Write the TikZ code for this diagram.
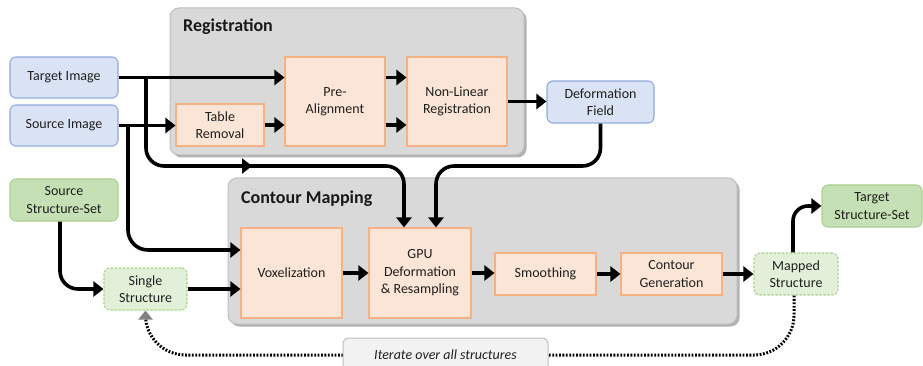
\documentclass[tikz,border=0pt]{standalone}
\usepackage{fontspec}
\setmainfont{Carlito}
\usetikzlibrary{arrows.meta,shadows}
\definecolor{bluefill}{HTML}{DAE3F3}
\definecolor{blueline}{HTML}{8FAADC}
\definecolor{orfill}{HTML}{FBE5D6}
\definecolor{orline}{HTML}{F4B183}
\definecolor{gfill}{HTML}{C5E0B4}
\definecolor{gline}{HTML}{A9D18E}
\definecolor{glfill}{HTML}{E2F0D9}
\definecolor{contfill}{HTML}{D9D9D9}
\definecolor{contline}{HTML}{BFBFBF}
\definecolor{iterfill}{HTML}{F2F2F2}
\begin{document}
\begin{tikzpicture}[x=1pt,y=-1pt,
  font=\fontsize{14}{17.5}\selectfont,
  dims/.style 2 args={minimum width=#1pt, minimum height=#2pt},
  box/.style={align=center, inner sep=0pt, line width=1.1pt, text=black!88},
  bluebox/.style={box, draw=blueline, fill=bluefill, rounded corners=6pt},
  orbox/.style={box, draw=orline, fill=orfill},
  greenbox/.style={box, draw=gline, fill=gfill, rounded corners=6pt},
  dgreenbox/.style={box, draw=gline, fill=glfill, rounded corners=6pt, dash pattern=on 2.5pt off 1.5pt},
  container/.style={draw=contline, fill=contfill, rounded corners=9pt, line width=1pt,
     drop shadow={shadow xshift=2.5pt, shadow yshift=-2.5pt, fill=black, opacity=0.3}},
  title/.style={font=\fontsize{18}{21}\selectfont\bfseries, anchor=west, inner sep=0pt, text=black!90},
  iterbox/.style={draw=contline, fill=iterfill, rounded corners=6pt, line width=1pt,
     font=\fontsize{14}{17.5}\selectfont\itshape, inner sep=0pt, text=black!88},
  arr/.style={line width=3.6pt, -{Triangle[length=10pt,width=15pt]}},
  dotline/.style={line width=3pt, dash pattern=on 1.8pt off 1.6pt,
     -{Triangle[length=9pt,width=14pt,color=gray]}}
]
\useasboundingbox (0,0) rectangle (923,366);
\clip (0,0) rectangle (923,366);

% containers
\node[container, dims={354}{147}] (reg) at (347,81.5) {};
\node[title] (regt) at (183,27) {Registration};
\node[container, dims={509}{146}] (cm) at (482.5,251) {};
\node[title] (cmt) at (241,199) {Contour Mapping};

% nodes
\node[bluebox, dims={108}{41}] (ti) at (64,77.5) {Target Image};
\node[bluebox, dims={108}{41}] (si) at (64,125.5) {Source Image};
\node[orbox, dims={88}{42}] (tr) at (220,125) {Table\\Removal};
\node[orbox, dims={100}{89}] (pre) at (335,101.5) {Pre-\\Alignment};
\node[orbox, dims={100}{89}] (nl) at (457,101.5) {Non-Linear\\Registration};
\node[bluebox, dims={107}{42}] (df) at (600.5,102) {Deformation\\Field};
\node[greenbox, dims={108}{42}] (sss) at (64,200) {Source\\Structure-Set};
\node[dgreenbox, dims={83}{42}] (single) at (145.5,289) {Single\\Structure};
\node[orbox, dims={101}{90}] (vox) at (291.5,273) {Voxelization};
\node[orbox, dims={102}{90}] (gpu) at (420,273) {GPU\\Deformation\\\& Resampling};
\node[orbox, dims={101}{42}] (sm) at (545.5,274) {Smoothing};
\node[orbox, dims={101}{42}] (cg) at (671.5,274) {Contour\\Generation};
\node[dgreenbox, dims={84}{42}] (ms) at (796,274) {Mapped\\Structure};
\node[greenbox, dims={100}{42}] (tss) at (872,206) {Target\\Structure-Set};

% helper coordinates
\coordinate (tb) at (146,77.5);
\coordinate (sb) at (128,125.5);
\coordinate (h1) at (0,166);
\coordinate (h2) at (0,250);
\coordinate (h3) at (0,355);
\coordinate (g1) at ([xshift=-16pt]gpu.north);
\coordinate (g2) at ([xshift=16pt]gpu.north);
\coordinate (ma1) at (238,166);
\coordinate (ma2) at (252,166);

% registration arrows
\draw[arr] (ti.east) -- (ti.east -| pre.west);
\draw[arr] (si.east) -- (si.east -| tr.west);
\draw[arr] (tr.east) -- (tr.east -| pre.west);
\draw[arr] (pre.east |- ti.east) -- (nl.west |- ti.east);
\draw[arr] (pre.east |- tr.east) -- (nl.west |- tr.east);
\draw[arr] (nl.east) -- (nl.east -| df.west);

% branches to contour mapping
\draw[arr, rounded corners=18pt] (tb) |- (g1 |- h1) -- (g1);
\draw[arr] (ma1) -- (ma2);
\draw[arr, rounded corners=18pt] (df.south) |- (g2 |- h1) -- (g2);
\draw[arr, rounded corners=20pt] (sb) |- (vox.west |- h2);
\draw[arr, rounded corners=18pt] ([xshift=-4pt]sss.south) |- (single.west);

% contour mapping chain
\draw[arr] (single.east) -- (single.east -| vox.west);
\draw[arr] (vox.east) -- (gpu.west);
\draw[arr] (gpu.east) -- (gpu.east -| sm.west);
\draw[arr] (sm.east) -- (cg.west);
\draw[arr] (cg.east) -- (ms.west);
\draw[arr, rounded corners=15pt] ([xshift=-3pt]ms.north) |- (tss.west);

% iteration loop
\draw[dotline, rounded corners=40pt] ([xshift=-2pt]ms.south) -- ([xshift=-2pt]ms.south |- h3) -- (single.south |- h3) -- (single.south);
\node[iterbox, dims={205}{34}] (it) at (445.5,355) {Iterate over all structures};
\end{tikzpicture}
\end{document}
